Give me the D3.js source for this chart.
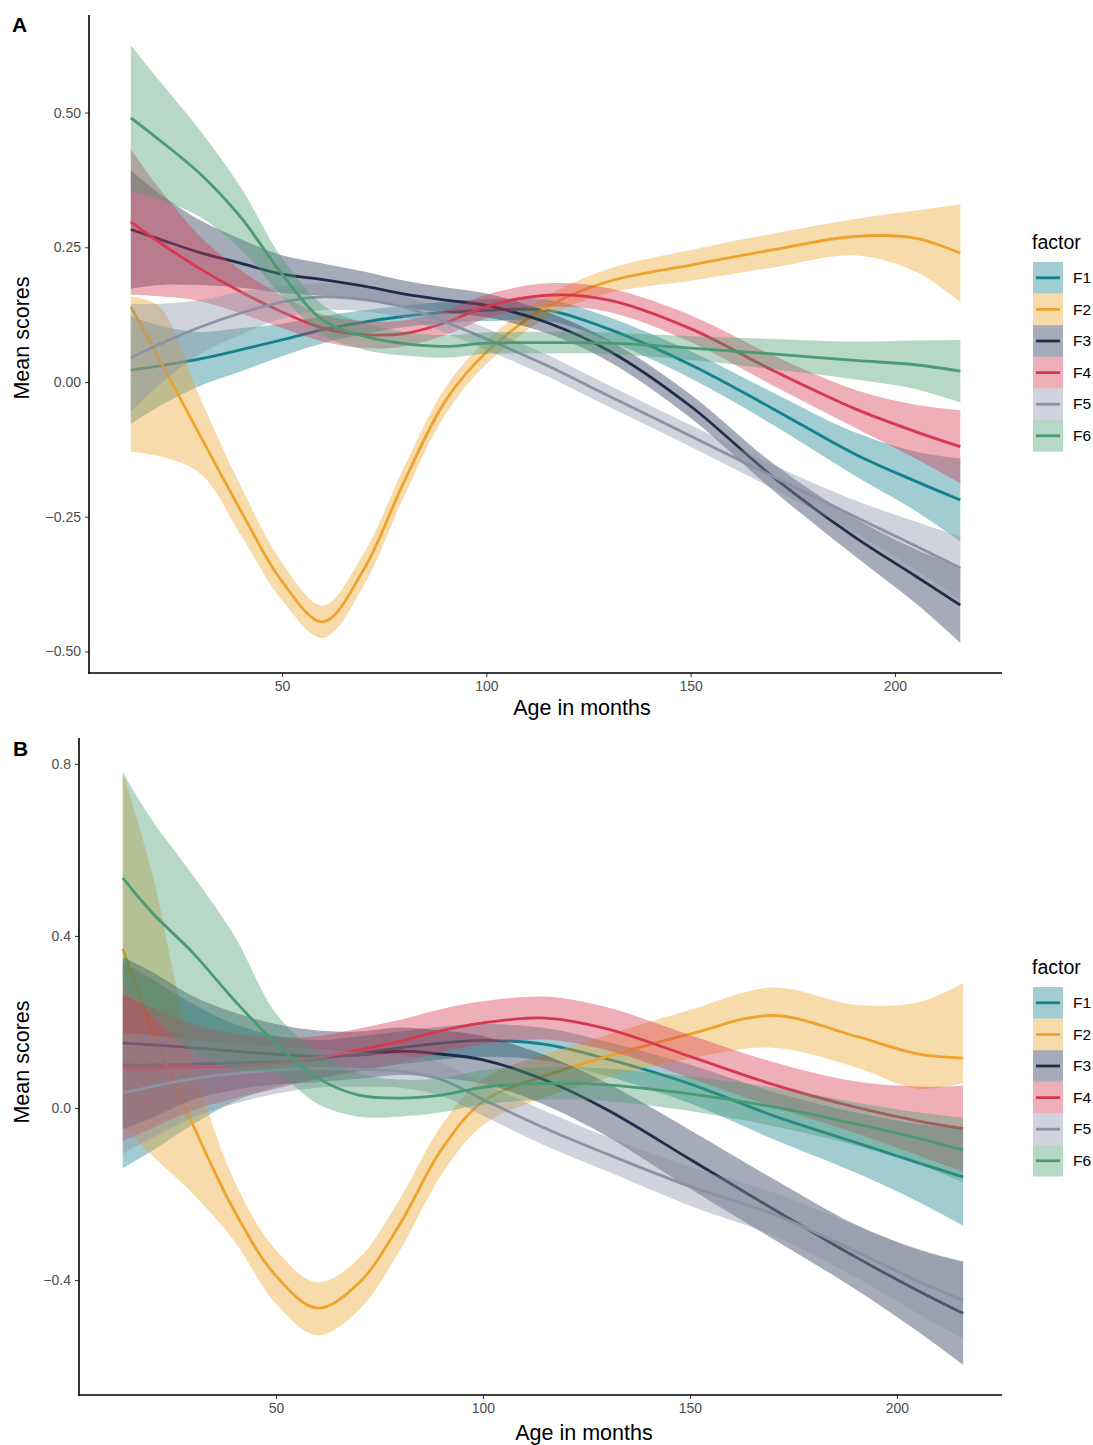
<!DOCTYPE html>
<html><head><meta charset="utf-8">
<script src="https://cdn.jsdelivr.net/npm/d3@7"></script>
<style>body{margin:0;background:#fff}svg{display:block;font-family:"Liberation Sans",Arial,Helvetica,sans-serif}</style>
</head><body>
<svg id="chart" width="1093" height="1445"></svg>
<script>
// ---------- data ----------
const ages = [13,20,30,40,50,60,70,80,90,100,115,130,150,170,190,205,216];
const factors = ["F1","F2","F3","F4","F5","F6"];
const factorColors = ["#13808e","#eea42c","#1f2d4d","#d6384f","#8a92a4","#4a9b74"];
const xTickValues = [50,100,150,200];
const yTicksA = [-0.5,-0.25,0,0.25,0.5];
const yTicksB = [-0.4,0,0.4,0.8];

// Panel A
const meanA_F1 = [0.022,0.03,0.043,0.06,0.078,0.097,0.111,0.122,0.129,0.133,0.133,0.098,0.032,-0.049,-0.133,-0.184,-0.219];
const loA_F1   = [-0.078,-0.045,-0.007,0.02,0.048,0.072,0.089,0.102,0.109,0.113,0.113,0.076,0.007,-0.079,-0.173,-0.239,-0.296];
const hiA_F1   = [0.122,0.105,0.093,0.1,0.108,0.122,0.133,0.142,0.149,0.153,0.153,0.12,0.057,-0.019,-0.093,-0.129,-0.142];
const meanA_F2 = [0.14,0.042,-0.1,-0.24,-0.37,-0.445,-0.348,-0.183,-0.035,0.055,0.14,0.187,0.217,0.245,0.27,0.267,0.239];
const loA_F2   = [-0.13,-0.138,-0.17,-0.285,-0.405,-0.475,-0.378,-0.21,-0.06,0.033,0.12,0.165,0.188,0.212,0.235,0.205,0.148];
const hiA_F2   = [0.158,0.14,-0.03,-0.195,-0.335,-0.415,-0.318,-0.156,-0.01,0.077,0.16,0.21,0.245,0.275,0.302,0.318,0.33];
const meanA_F3 = [0.283,0.265,0.24,0.22,0.2,0.19,0.178,0.163,0.152,0.142,0.11,0.058,-0.045,-0.175,-0.287,-0.36,-0.414];
const loA_F3   = [0.173,0.18,0.18,0.175,0.165,0.16,0.151,0.138,0.128,0.12,0.09,0.038,-0.067,-0.2,-0.322,-0.41,-0.484];
const hiA_F3   = [0.393,0.35,0.3,0.265,0.235,0.22,0.205,0.188,0.176,0.164,0.13,0.078,-0.023,-0.15,-0.252,-0.31,-0.344];
const meanA_F4 = [0.297,0.259,0.21,0.167,0.13,0.1,0.088,0.09,0.11,0.14,0.161,0.152,0.099,0.022,-0.049,-0.092,-0.12];
const loA_F4   = [0.162,0.159,0.15,0.127,0.1,0.075,0.063,0.066,0.087,0.118,0.139,0.13,0.074,-0.006,-0.084,-0.142,-0.188];
const hiA_F4   = [0.432,0.359,0.27,0.207,0.16,0.125,0.113,0.114,0.133,0.162,0.183,0.174,0.124,0.05,-0.014,-0.042,-0.052];
const meanA_F5 = [0.045,0.07,0.102,0.128,0.148,0.158,0.153,0.139,0.111,0.08,0.03,-0.026,-0.1,-0.175,-0.249,-0.304,-0.345];
const loA_F5   = [-0.055,-0.005,0.052,0.088,0.118,0.133,0.131,0.119,0.091,0.06,0.01,-0.046,-0.12,-0.197,-0.279,-0.349,-0.403];
const hiA_F5   = [0.145,0.145,0.152,0.168,0.178,0.183,0.175,0.159,0.131,0.1,0.05,-0.006,-0.08,-0.153,-0.219,-0.259,-0.287];
const meanA_F6 = [0.49,0.449,0.386,0.305,0.2,0.115,0.085,0.071,0.066,0.072,0.073,0.072,0.063,0.052,0.04,0.032,0.02];
const loA_F6   = [0.355,0.339,0.306,0.245,0.16,0.087,0.06,0.049,0.045,0.052,0.053,0.052,0.041,0.024,0.005,-0.013,-0.038];
const hiA_F6   = [0.625,0.559,0.466,0.36,0.23,0.143,0.11,0.093,0.087,0.092,0.093,0.092,0.085,0.08,0.075,0.077,0.078];

// Panel B
const meanB_F1 = [0.1,0.1,0.102,0.105,0.108,0.113,0.127,0.14,0.151,0.157,0.148,0.114,0.056,-0.017,-0.08,-0.127,-0.16];
const loB_F1   = [-0.14,-0.1,-0.038,0.015,0.048,0.068,0.087,0.102,0.113,0.119,0.11,0.074,0.011,-0.072,-0.15,-0.217,-0.273];
const hiB_F1   = [0.34,0.3,0.242,0.195,0.168,0.158,0.167,0.178,0.189,0.195,0.186,0.154,0.101,0.038,-0.01,-0.037,-0.047];
const meanB_F2 = [0.37,0.185,-0.04,-0.24,-0.39,-0.465,-0.407,-0.269,-0.096,0.015,0.075,0.12,0.172,0.215,0.167,0.126,0.116];
const loB_F2   = [-0.04,-0.11,-0.2,-0.31,-0.455,-0.528,-0.47,-0.33,-0.155,-0.04,0.025,0.07,0.115,0.14,0.095,0.045,0.058];
const hiB_F2   = [0.78,0.55,0.11,-0.17,-0.33,-0.405,-0.35,-0.21,-0.04,0.068,0.125,0.17,0.228,0.28,0.24,0.245,0.29];
const meanB_F3 = [0.151,0.147,0.14,0.132,0.125,0.12,0.123,0.132,0.125,0.112,0.065,-0.004,-0.119,-0.234,-0.346,-0.424,-0.477];
const loB_F3   = [-0.049,-0.023,0.02,0.042,0.055,0.06,0.068,0.077,0.07,0.057,0.007,-0.066,-0.187,-0.304,-0.421,-0.519,-0.597];
const hiB_F3   = [0.351,0.317,0.26,0.222,0.195,0.18,0.178,0.187,0.18,0.167,0.123,0.058,-0.051,-0.164,-0.271,-0.329,-0.357];
const meanB_F4 = [0.093,0.093,0.095,0.097,0.105,0.117,0.135,0.155,0.18,0.198,0.209,0.184,0.12,0.055,0.002,-0.03,-0.048];
const loB_F4   = [-0.077,-0.047,-0.005,0.022,0.045,0.067,0.085,0.105,0.13,0.148,0.159,0.134,0.07,0.003,-0.058,-0.11,-0.148];
const hiB_F4   = [0.263,0.233,0.195,0.172,0.165,0.167,0.185,0.205,0.23,0.248,0.259,0.234,0.17,0.107,0.062,0.05,0.052];
const meanB_F5 = [0.035,0.05,0.068,0.08,0.088,0.092,0.09,0.085,0.066,0.02,-0.047,-0.107,-0.182,-0.246,-0.333,-0.402,-0.447];
const loB_F5   = [-0.105,-0.07,-0.022,0.01,0.033,0.047,0.05,0.047,0.028,-0.018,-0.087,-0.147,-0.227,-0.296,-0.393,-0.477,-0.537];
const hiB_F5   = [0.175,0.17,0.158,0.15,0.143,0.137,0.13,0.123,0.104,0.058,-0.007,-0.067,-0.137,-0.196,-0.273,-0.327,-0.357];
const meanB_F6 = [0.535,0.455,0.36,0.25,0.15,0.07,0.03,0.023,0.03,0.048,0.057,0.054,0.033,0.003,-0.037,-0.07,-0.098];
const loB_F6   = [0.29,0.215,0.13,0.09,0.08,0.01,-0.02,-0.02,-0.01,0.008,0.019,0.016,-0.007,-0.042,-0.087,-0.13,-0.173];
const hiB_F6   = [0.78,0.67,0.54,0.4,0.22,0.13,0.08,0.066,0.07,0.088,0.095,0.092,0.073,0.048,0.013,-0.01,-0.023];

const seriesA = [
  [meanA_F1, loA_F1, hiA_F1],[meanA_F2, loA_F2, hiA_F2],[meanA_F3, loA_F3, hiA_F3],
  [meanA_F4, loA_F4, hiA_F4],[meanA_F5, loA_F5, hiA_F5],[meanA_F6, loA_F6, hiA_F6]
];
const seriesB = [
  [meanB_F1, loB_F1, hiB_F1],[meanB_F2, loB_F2, hiB_F2],[meanB_F3, loB_F3, hiB_F3],
  [meanB_F4, loB_F4, hiB_F4],[meanB_F5, loB_F5, hiB_F5],[meanB_F6, loB_F6, hiB_F6]
];

// ---------- drawing ----------
const svg = d3.select("#chart");
const fmtA = d3.format(".2f"), fmtB = d3.format(".1f");

function drawPanel(cfg) {
  const x = d3.scaleLinear().domain(cfg.xDomain).range([cfg.left, cfg.right]);
  const y = d3.scaleLinear().domain(cfg.yDomain).range([cfg.bottom, cfg.top]);
  const g = svg.append("g");
  const curve = d3.curveCatmullRom.alpha(0.5);

  cfg.series.forEach((s, i) => {
    const [mean, lo, hi] = s;
    const pts = ages.map((a, k) => ({a, m: mean[k], l: lo[k], h: hi[k]}));
    const area = d3.area().x(d => x(d.a)).y0(d => y(d.l)).y1(d => y(d.h)).curve(curve);
    const line = d3.line().x(d => x(d.a)).y(d => y(d.m)).curve(curve);
    g.append("path").attr("d", area(pts)).attr("fill", factorColors[i]).attr("fill-opacity", 0.4).attr("stroke", "none");
    g.append("path").attr("d", line(pts)).attr("fill", "none").attr("stroke", factorColors[i]).attr("stroke-width", 2.8);
  });

  // axes
  const yAxis = d3.axisLeft(y).tickValues(cfg.yTicks).tickFormat(cfg.fmt).tickSize(4).tickPadding(4);
  const xAxis = d3.axisBottom(x).tickValues(xTickValues).tickSize(4).tickPadding(4);
  const ya = g.append("g").attr("transform", `translate(${cfg.left},0)`).call(yAxis);
  const xa = g.append("g").attr("transform", `translate(0,${cfg.bottom})`).call(xAxis);
  [ya, xa].forEach(a => {
    a.select(".domain").remove();
    a.selectAll(".tick line").attr("stroke", "#333").attr("stroke-width", 1);
    a.selectAll(".tick text").attr("fill", "#4d4d4d").style("font-size", "14px")
      .style("font-family", '"Liberation Sans",Arial,sans-serif');
  });
  g.append("line").attr("x1", cfg.left).attr("x2", cfg.left).attr("y1", cfg.top).attr("y2", cfg.bottom + 0.8)
    .attr("stroke", "#000").attr("stroke-width", 1.6);
  g.append("line").attr("x1", cfg.left - 0.8).attr("x2", cfg.right).attr("y1", cfg.bottom).attr("y2", cfg.bottom)
    .attr("stroke", "#000").attr("stroke-width", 1.6);

  // titles
  g.append("text").attr("x", cfg.xTitleX).attr("y", cfg.xTitleY).attr("text-anchor", "middle")
    .style("font-size", "21.5px").attr("fill", "#000").text("Age in months");
  g.append("text").attr("transform", `translate(29,${cfg.yTitleY}) rotate(-90)`).attr("text-anchor", "middle")
    .style("font-size", "21.5px").attr("fill", "#000").text("Mean scores");
  g.append("text").attr("x", cfg.tagX).attr("y", cfg.tagY).style("font-size", "21px").style("font-weight", "bold")
    .attr("fill", "#000").text(cfg.tag);

  // legend
  const lg = g.append("g");
  lg.append("text").attr("x", 1032).attr("y", cfg.legTop - 13).style("font-size", "19.5px").attr("fill", "#000").text("factor");
  factors.forEach((f, i) => {
    const ky = cfg.legTop + i * 31.6;
    lg.append("rect").attr("x", 1033).attr("y", ky).attr("width", 30).attr("height", 31.6)
      .attr("fill", factorColors[i]).attr("fill-opacity", 0.4);
    lg.append("line").attr("x1", 1036).attr("x2", 1060).attr("y1", ky + 15.8).attr("y2", ky + 15.8)
      .attr("stroke", factorColors[i]).attr("stroke-width", 2.8);
    lg.append("text").attr("x", 1073).attr("y", ky + 21).style("font-size", "15.5px").attr("fill", "#000").text(f);
  });
}

drawPanel({tag: "A", tagX: 12, tagY: 32, series: seriesA,
  xDomain: [2.77, 226.2], yDomain: [-0.54, 0.681], left: 89, right: 1002, top: 15, bottom: 673,
  yTicks: yTicksA, fmt: fmtA, xTitleX: 582, xTitleY: 715, yTitleY: 338, legTop: 262});

drawPanel({tag: "B", tagX: 13, tagY: 756, series: seriesB,
  xDomain: [2.42, 225.4], yDomain: [-0.667, 0.86], left: 79, right: 1002, top: 738, bottom: 1395,
  yTicks: yTicksB, fmt: fmtB, xTitleX: 584, xTitleY: 1440, yTitleY: 1062, legTop: 987});
</script>
</body></html>
